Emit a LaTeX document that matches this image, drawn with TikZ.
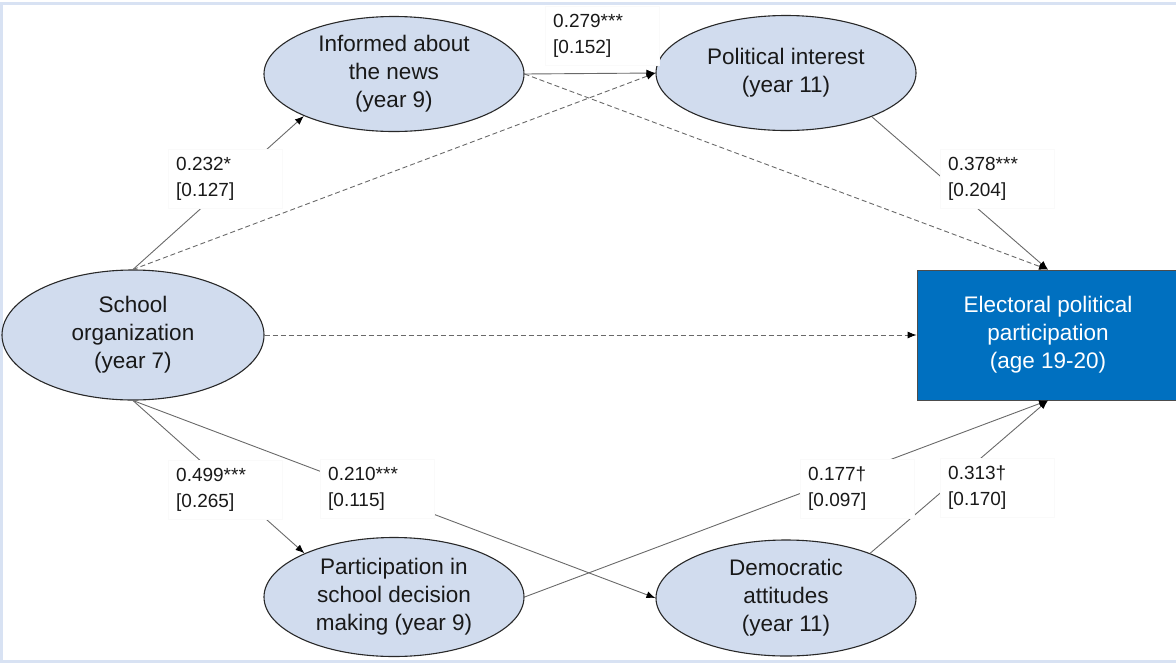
\documentclass[tikz,border=0pt]{standalone}
\usepackage{fontspec}
\setmainfont{Liberation Sans}
\usetikzlibrary{shapes.geometric,arrows.meta}
\definecolor{ellfill}{RGB}{209,220,238}
\definecolor{ellline}{RGB}{40,40,40}
\definecolor{conn}{RGB}{105,105,105}
\definecolor{boxblue}{RGB}{0,112,192}
\definecolor{frameblue}{RGB}{216,226,243}
\definecolor{labline}{RGB}{250,250,250}
\begin{document}
\begin{tikzpicture}[x=1pt,y=-1pt,
  ell/.style={ellipse, draw=ellline, line width=1.1pt, fill=ellfill, inner sep=0pt,
    minimum width=260pt, minimum height=115pt, align=center,
    font=\fontsize{22.5}{28}\selectfont, text=black!90},
  outbox/.style={rectangle, draw=black!70, line width=0.8pt, fill=boxblue, inner sep=0pt,
    minimum width=260pt, minimum height=130pt, align=center,
    font=\fontsize{22.5}{28}\selectfont, text=white},
  lab/.style={rectangle, fill=white, draw=labline, inner xsep=8pt, inner ysep=0pt,
    text width=98pt, minimum height=59pt, align=left, anchor=north west,
    font=\fontsize{19}{26}\selectfont, text=black!90},
  path/.style={draw=conn, line width=0.9pt, -{Latex[length=9pt,width=7pt,color=black]}},
  dpath/.style={path, dash pattern=on 5pt off 3pt}
]
\useasboundingbox (0,0) rectangle (1176,665);
\draw[frameblue, line width=3pt] (1.5,3.5) rectangle (1185,661.5);

% nodes
\node[ell, minimum width=262pt, minimum height=130pt] (school) at (133,335) {School\\organization\\(year 7)};
\node[ell] (inf) at (394,74) {Informed about\\the news\\(year 9)};
\node[ell] (pol) at (786,73) {Political interest\\(year 11)};
\node[ell, minimum height=119pt] (par) at (394,597) {Participation in\\school decision\\making (year 9)};
\node[ell, minimum height=116pt] (dem) at (786,598) {Democratic\\attitudes\\(year 11)};
\node[outbox, minimum width=262pt] (elec) at (1048,335) {Electoral political\\participation\\(age 19-20)};

% connectors
\draw[dpath] (school.north) -- (pol.west);
\draw[dpath] (school.east) -- (elec.west);
\draw[dpath] (inf.east) -- (elec.north);
\draw[path] (school.north) -- (inf.205);
\draw[path] (inf.east) -- (pol.west);
\draw[path] (pol.333) -- (elec.north);
\draw[path] (school.south) -- (par.154);
\draw[path] (school.south) -- (dem.west);
\draw[path] (par.east) -- (elec.south);
\draw[path] (dem.28) -- (elec.south);

% labels
\node[lab] (l1) at (168,149) {0.232*\\{}[0.127]};
\node[lab] (l2) at (545,6) {0.279***\\{}[0.152]};
\node[lab] (l3) at (940,149) {0.378***\\{}[0.204]};
\node[lab] (l4) at (168,460) {0.499***\\{}[0.265]};
\node[lab] (l5) at (320,459) {0.210***\\{}[0.115]};
\node[lab] (l6) at (800,459) {0.177†\\{}[0.097]};
\node[lab] (l7) at (940,458) {0.313†\\{}[0.170]};
\end{tikzpicture}
\end{document}
